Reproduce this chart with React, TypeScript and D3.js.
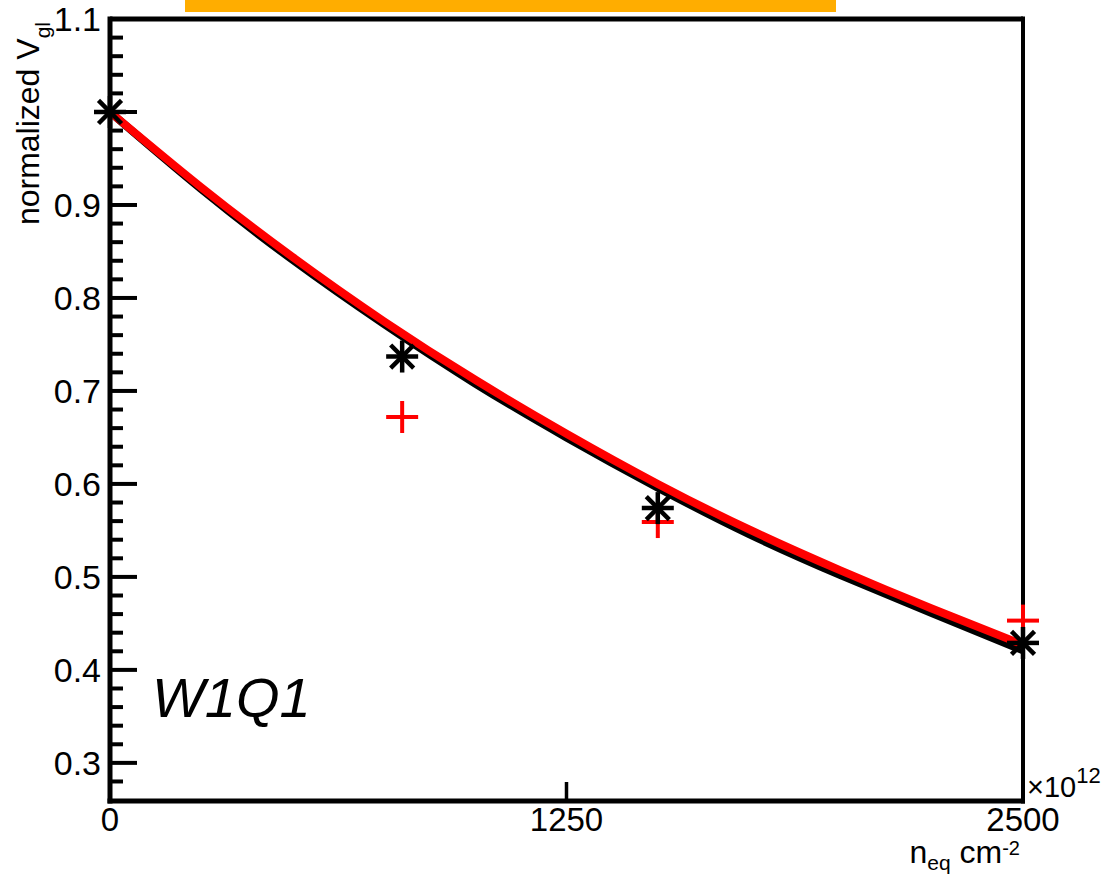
import React from "react";
import * as d3 from "d3";

// ---- data ----
const fitX = [0, 250, 500, 750, 1000, 1250, 1500, 1750, 2000, 2250, 2500];
const fitRed = [1.0, 0.919, 0.844, 0.775, 0.712, 0.654, 0.6, 0.551, 0.507, 0.466, 0.427];
const fitBlack = [1.0, 0.917, 0.841, 0.772, 0.708, 0.65, 0.596, 0.546, 0.502, 0.461, 0.421];

const pointX = [0, 800, 1500, 2500];
const blackPoints = [1.0, 0.737, 0.574, 0.429];
const redPoints = [1.0, 0.672, 0.559, 0.453];

const yMajorTicks = [0.3, 0.4, 0.5, 0.6, 0.7, 0.8, 0.9, 1.0, 1.1];
const yTickLabels = ["0.3", "0.4", "0.5", "0.6", "0.7", "0.8", "0.9", "", "1.1"];
const xTicks = [0, 1250, 2500];
const xTickLabels = ["0", "1250", "2500"];

const W = 1107;
const H = 874;
const FONT = "'Liberation Sans', Arial, Helvetica, sans-serif";

export default function App() {
  const x = d3.scaleLinear().domain([0, 2500]).range([110, 1023]);
  const y = d3.scaleLinear().domain([0.259, 1.1]).range([801, 19]);

  const minorTicks = d3
    .range(0.28, 1.1, 0.02)
    .map((v) => Math.round(v * 100) / 100)
    .filter((v) => Math.round(v * 100) % 10 !== 0);

  const line = d3
    .line<[number, number]>()
    .x((d) => x(d[0]))
    .y((d) => y(d[1]))
    .curve(d3.curveNatural);

  const redPath = line(fitX.map((v, i) => [v, fitRed[i]]) as [number, number][]) || "";
  const blackPath = line(fitX.map((v, i) => [v, fitBlack[i]]) as [number, number][]) || "";

  const S = 16;
  const asterisk = (cx: number, cy: number, k: number) => {
    const d = S * 0.72;
    return (
      <g key={"a" + k} stroke="#000" strokeWidth={4.5}>
        <line x1={cx - S} y1={cy} x2={cx + S} y2={cy} />
        <line x1={cx} y1={cy - S} x2={cx} y2={cy + S} />
        <line x1={cx - d} y1={cy - d} x2={cx + d} y2={cy + d} />
        <line x1={cx - d} y1={cy + d} x2={cx + d} y2={cy - d} />
      </g>
    );
  };
  const plus = (cx: number, cy: number, k: number) => (
    <g key={"p" + k} stroke="#ff0000" strokeWidth={4}>
      <line x1={cx - S} y1={cy} x2={cx + S} y2={cy} />
      <line x1={cx} y1={cy - S} x2={cx} y2={cy + S} />
    </g>
  );

  return (
    <div style={{ position: "absolute", left: 0, top: 0 }}>
      <svg width={W} height={H} style={{ display: "block" }} fontFamily={FONT}>
        <rect x={0} y={0} width={W} height={H} fill="#fff" />
        {/* orange title bar */}
        <rect x={185} y={0} width={651} height={12} fill="#ffad00" />

        {/* fit curves */}
        <path d={blackPath} fill="none" stroke="#000" strokeWidth={8} />
        <path d={redPath} fill="none" stroke="#ff0000" strokeWidth={8} />

        {/* frame */}
        <line x1={x(0)} y1={y(1.1)} x2={x(2500)} y2={y(1.1)} stroke="#000" strokeWidth={5} />
        <line x1={x(2500)} y1={y(1.1) - 2.5} x2={x(2500)} y2={y(0.259) + 2.5} stroke="#000" strokeWidth={4} />
        <line x1={x(0)} y1={y(1.1) - 2.5} x2={x(0)} y2={y(0.259) + 2.5} stroke="#000" strokeWidth={5} />
        <line x1={x(0) - 2.5} y1={y(0.259)} x2={x(2500) + 2} y2={y(0.259)} stroke="#000" strokeWidth={5} />

        {/* y ticks */}
        {yMajorTicks.map((v) => (
          <line key={"ym" + v} x1={x(0)} x2={x(0) + 27} y1={y(v)} y2={y(v)} stroke="#000" strokeWidth={4} />
        ))}
        {minorTicks.map((v) => (
          <line key={"yn" + v} x1={x(0)} x2={x(0) + 13} y1={y(v)} y2={y(v)} stroke="#000" strokeWidth={4} />
        ))}
        {yMajorTicks.map((v, i) => (
          <text key={"yl" + v} x={101} y={y(v)} dy="0.36em" textAnchor="end" fontSize={34} fill="#000">
            {yTickLabels[i]}
          </text>
        ))}

        {/* x tick */}
        <line x1={x(1250)} x2={x(1250)} y1={y(0.259)} y2={y(0.259) - 19} stroke="#000" strokeWidth={3.5} />
        {xTicks.map((v, i) => (
          <text key={"xl" + v} x={x(v)} y={831} textAnchor="middle" fontSize={33} fill="#000">
            {xTickLabels[i]}
          </text>
        ))}

        {/* markers */}
        {pointX.map((v, i) => plus(x(v), y(redPoints[i]), i))}
        {pointX.map((v, i) => asterisk(x(v), y(blackPoints[i]), i))}

        {/* exponent */}
        <text x={1027} y={797} fontSize={29} fill="#000">
          ×10
          <tspan dy={-14} fontSize={22}>12</tspan>
        </text>

        {/* x title */}
        <text x={1020} y={863} textAnchor="end" fontSize={32} fill="#000">
          n
          <tspan dy={7} fontSize={21}>eq</tspan>
          <tspan dy={-7}> cm</tspan>
          <tspan dy={-8} fontSize={20}>-2</tspan>
        </text>

        {/* y title */}
        <text transform="translate(39,22) rotate(-90)" textAnchor="end" fontSize={32} fill="#000">
          normalized V
          <tspan dy={11} fontSize={21}>gl</tspan>
        </text>

        {/* W1Q1 label */}
        <text x={152} y={717} fontSize={56} fontStyle="italic" fill="#000">
          W1Q1
        </text>
      </svg>
    </div>
  );
}
